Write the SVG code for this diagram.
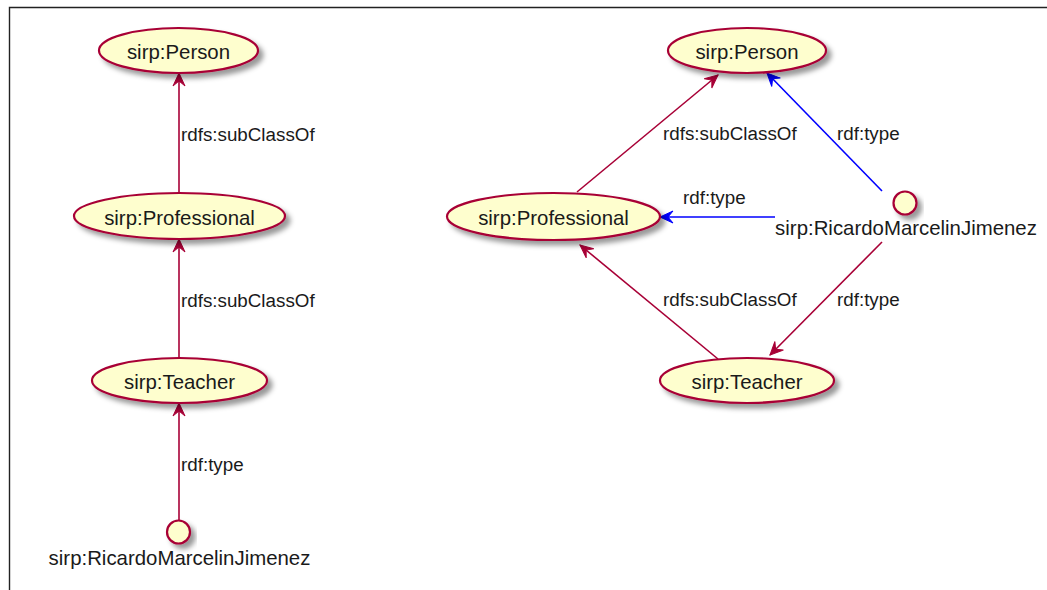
<svg xmlns="http://www.w3.org/2000/svg" width="1047" height="590" viewBox="0 0 1047 590">
<defs>
<style>
.n ellipse, .n circle { fill: #FEFECE; stroke: #A80036; stroke-width: 2.2; filter: url(#sh); }
.nt { font-family: "Liberation Sans", Arial, sans-serif; font-size: 20.4px; fill: #1a1a1a; text-anchor: middle; }
.el { font-family: "Liberation Sans", Arial, sans-serif; font-size: 18.8px; fill: #1a1a1a; }
.r { stroke: #A80036; stroke-width: 1.6; fill: none; marker-end: url(#ar); }
.b { stroke: #0000FF; stroke-width: 1.6; fill: none; marker-end: url(#ab); }
</style>
<filter id="sh" x="-20%" y="-30%" width="150%" height="170%">
<feDropShadow dx="4.5" dy="4.5" stdDeviation="2.5" flood-color="#000" flood-opacity="0.4"/>
</filter>
<marker id="ar" markerUnits="userSpaceOnUse" markerWidth="20" markerHeight="20" viewBox="-15 -10 20 20" refX="0" refY="0" orient="auto" overflow="visible">
<path d="M0,0 L-13,-6 L-8,0 L-13,6 Z" fill="#A80036" stroke="#A80036" stroke-width="1"/>
</marker>
<marker id="ab" markerUnits="userSpaceOnUse" markerWidth="20" markerHeight="20" viewBox="-15 -10 20 20" refX="0" refY="0" orient="auto" overflow="visible">
<path d="M0,0 L-13,-6 L-8,0 L-13,6 Z" fill="#0000FF" stroke="#0000FF" stroke-width="1"/>
</marker>
</defs>
<rect width="1047" height="590" fill="#fff"/>
<path d="M9.5,590 L9.5,7.5 L1047,7.5" fill="none" stroke="#222" stroke-width="1.4"/>

<g id="connectors">
<line class="r" x1="179" y1="193" x2="179" y2="73"/>
<line class="r" x1="179" y1="358" x2="179" y2="239"/>
<line class="r" x1="179" y1="520" x2="179" y2="403"/>
<line class="r" x1="577" y1="192" x2="718" y2="75"/>
<line class="b" x1="882" y1="191" x2="767" y2="73"/>
<line class="b" x1="775" y1="217" x2="660" y2="217"/>
<line class="r" x1="718" y1="359" x2="580" y2="245"/>
<line class="r" x1="882" y1="242" x2="770" y2="355"/>
<text class="el" x="181" y="141">rdfs:subClassOf</text>
<text class="el" x="181" y="307">rdfs:subClassOf</text>
<text class="el" x="181" y="471">rdf:type</text>
<text class="el" x="663" y="140">rdfs:subClassOf</text>
<text class="el" x="837" y="140">rdf:type</text>
<text class="el" x="683" y="204">rdf:type</text>
<text class="el" x="663" y="306">rdfs:subClassOf</text>
<text class="el" x="837" y="306">rdf:type</text>
</g>

<g id="l-person" class="n"><ellipse cx="178.5" cy="50.5" rx="79.5" ry="22.5"/><text class="nt" x="178.5" y="59.3">sirp:Person</text></g>
<g id="l-professional" class="n"><ellipse cx="179.5" cy="216" rx="105.5" ry="23"/><text class="nt" x="179.5" y="225">sirp:Professional</text></g>
<g id="l-teacher" class="n"><ellipse cx="179.5" cy="380.5" rx="87.5" ry="22.5"/><text class="nt" x="179.5" y="389.3">sirp:Teacher</text></g>
<g id="l-ricardo" class="n"><circle cx="178.5" cy="532" r="11.5"/><text class="nt" x="179.5" y="565">sirp:RicardoMarcelinJimenez</text></g>

<g id="r-person" class="n"><ellipse cx="747" cy="50.5" rx="79" ry="22.5"/><text class="nt" x="747" y="59.3">sirp:Person</text></g>
<g id="r-professional" class="n"><ellipse cx="553.5" cy="216.5" rx="106.5" ry="23.5"/><text class="nt" x="553.5" y="225.3">sirp:Professional</text></g>
<g id="r-teacher" class="n"><ellipse cx="747" cy="380.5" rx="87" ry="22.5"/><text class="nt" x="747" y="389.3">sirp:Teacher</text></g>
<g id="r-ricardo" class="n"><circle cx="905" cy="203" r="11.5"/><text class="nt" x="906" y="235">sirp:RicardoMarcelinJimenez</text></g>
</svg>
